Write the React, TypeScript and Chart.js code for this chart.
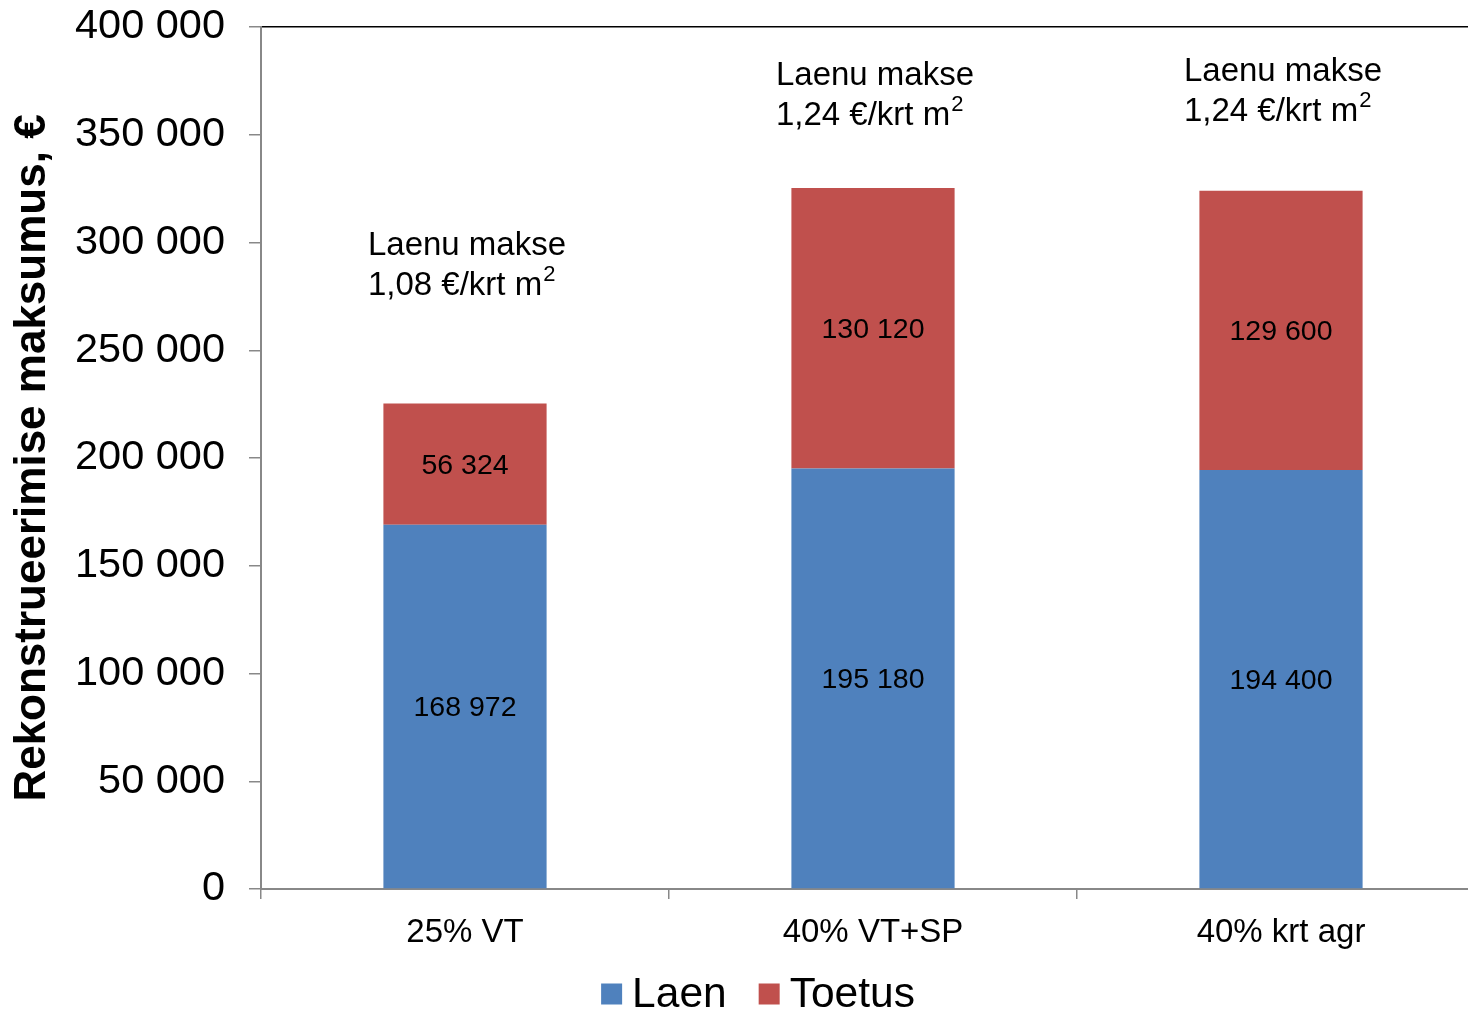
import React, { useEffect, useRef } from "react";
import { Chart, registerables } from "chart.js";

Chart.register(...registerables);

const categories = ["25% VT", "40% VT+SP", "40% krt agr"];
const laen = [168972, 195180, 194400];
const toetus = [56324, 130120, 129600];
const seriesNames = ["Laen", "Toetus"];
const seriesColors = ["#4F81BD", "#C0504D"];
const annotationLine1 = ["Laenu makse", "Laenu makse", "Laenu makse"];
const annotationLine2 = ["1,08 €/krt m", "1,24 €/krt m", "1,24 €/krt m"];
const annotationSup = ["2", "2", "2"];
const annotationY = [298400, 377300, 379100];
const yTitle = "Rekonstrueerimise maksumus, €";

const FONT = "'Liberation Sans', Arial, sans-serif";

const fmt = (v: number) =>
  Math.round(v).toString().replace(/\B(?=(\d{3})+(?!\d))/g, " ");

const overlayPlugin = {
  id: "overlay",
  afterDraw(chart: any) {
    const ctx = chart.ctx;
    const xs = chart.scales.x;
    const ys = chart.scales.y;
    ctx.save();
    // bar value labels
    ctx.fillStyle = "#000";
    ctx.font = `28.5px ${FONT}`;
    ctx.textAlign = "center";
    ctx.textBaseline = "middle";
    chart.data.datasets.forEach((ds: any, i: number) => {
      const meta = chart.getDatasetMeta(i);
      meta.data.forEach((el: any, j: number) => {
        const cy = (el.y + el.base) / 2;
        ctx.fillText(fmt(ds.data[j]), el.x, cy + 2);
      });
    });
    // annotations
    categories.forEach((_, j) => {
      ctx.font = `33px ${FONT}`;
      const cx = xs.getPixelForValue(j);
      const y1 = ys.getPixelForValue(annotationY[j]);
      const w1 = ctx.measureText(annotationLine1[j]).width;
      const left = cx - w1 / 2 + 2;
      ctx.textAlign = "left";
      ctx.textBaseline = "middle";
      ctx.fillText(annotationLine1[j], left, y1);
      ctx.fillText(annotationLine2[j], left, y1 + 40);
      const w2 = ctx.measureText(annotationLine2[j]).width;
      ctx.font = `22px ${FONT}`;
      ctx.fillText(annotationSup[j], left + w2 + 1, y1 + 40 - 11);
    });
    // y title
    ctx.save();
    ctx.font = `bold 44px ${FONT}`;
    ctx.textAlign = "center";
    ctx.textBaseline = "middle";
    ctx.translate(33, (chart.chartArea.top + chart.chartArea.bottom) / 2);
    ctx.rotate(-Math.PI / 2);
    ctx.fillText(yTitle, 0, 0);
    ctx.restore();
    // legend
    ctx.font = `42.5px ${FONT}`;
    ctx.textBaseline = "middle";
    ctx.textAlign = "left";
    const box = 21;
    const gapBoxText = 10;
    const gapItems = 32;
    const widths = seriesNames.map((n) => ctx.measureText(n).width);
    const total =
      widths.reduce((a, b) => a + b, 0) +
      seriesNames.length * (box + gapBoxText) +
      gapItems * (seriesNames.length - 1);
    let x = 758 - total / 2;
    const ly = 994;
    seriesNames.forEach((n, i) => {
      ctx.fillStyle = seriesColors[i];
      ctx.fillRect(x, ly - box / 2, box, box);
      x += box + gapBoxText;
      ctx.fillStyle = "#000";
      ctx.fillText(n, x, ly + 1);
      x += widths[i] + gapItems;
    });
    ctx.restore();
  },
};

export default function App() {
  const ref = useRef<HTMLCanvasElement>(null);
  useEffect(() => {
    document.body.style.margin = "0";
    const chart = new Chart(ref.current as HTMLCanvasElement, {
      type: "bar",
      data: {
        labels: categories,
        datasets: [
          {
            label: seriesNames[0],
            data: laen,
            backgroundColor: seriesColors[0],
            categoryPercentage: 1,
            barPercentage: 0.4,
          },
          {
            label: seriesNames[1],
            data: toetus,
            backgroundColor: seriesColors[1],
            categoryPercentage: 1,
            barPercentage: 0.4,
          },
        ],
      },
      options: {
        responsive: false,
        animation: false,
        layout: { padding: { top: 27, left: 0, right: 0, bottom: 0 } },
        plugins: {
          legend: { display: false },
          tooltip: { enabled: false },
        },
        scales: {
          x: {
            stacked: true,
            offset: true,
            border: { color: "#888", width: 2 },
            grid: {
              offset: true,
              drawOnChartArea: false,
              drawTicks: true,
              tickLength: 10,
              color: "#888",
              lineWidth: 1.5,
            },
            ticks: {
              color: "#000",
              font: { family: FONT, size: 33 },
              padding: 14,
              maxRotation: 0,
            },
            afterFit: (s: any) => {
              s.height = 123;
              s.paddingLeft = 0;
              s.paddingRight = 0;
            },
          },
          y: {
            stacked: true,
            min: 0,
            max: 400000,
            border: { color: "#888", width: 2 },
            grid: {
              drawOnChartArea: true,
              drawTicks: true,
              tickLength: 12,
              lineWidth: 1.5,
              color: (c: any) =>
                c.tick && c.tick.value === 400000 ? "#000" : "rgba(0,0,0,0)",
              tickColor: "#888",
            },
            ticks: {
              stepSize: 50000,
              color: "#000",
              font: { family: FONT, size: 41.5 },
              padding: 24,
              callback: (v: any) => fmt(Number(v)),
            },
            afterFit: (s: any) => {
              s.width = 261;
              s.paddingTop = 0;
              s.paddingBottom = 0;
            },
          },
        },
      },
      plugins: [overlayPlugin],
    });
    return () => chart.destroy();
  }, []);
  return (
    <div
      style={{
        position: "absolute",
        left: 0,
        top: 0,
        width: 1468,
        height: 1012,
        overflow: "hidden",
      }}
    >
      <canvas ref={ref} width={1485} height={1012} style={{ display: "block" }} />
    </div>
  );
}
